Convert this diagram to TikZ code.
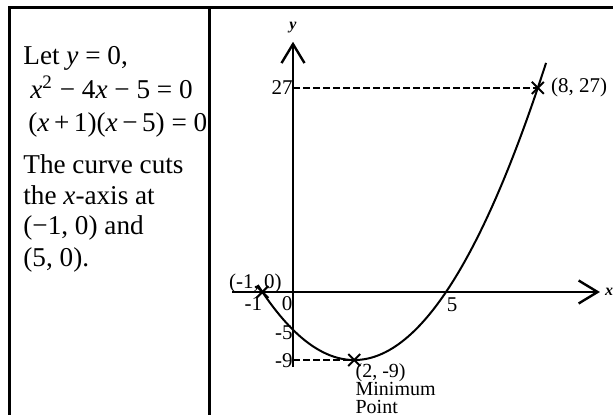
\documentclass[tikz,border=0pt]{standalone}
\usepackage{fontspec}
\setmainfont{Liberation Serif}
\usetikzlibrary{arrows.meta,positioning,shapes.misc}

\begin{document}
\begin{tikzpicture}[
  x=0.5pt, y=-0.5pt,
  frame/.style={draw=black, line width=1.5pt},
  solntext/.style={anchor=base west, inner sep=0pt, font=\fontsize{13.6}{16}\selectfont},
  axis/.style={draw=black, line width=1.2pt, -{Straight Barb[length=9.5pt,width=11.5pt]}},
  curve/.style={draw=black, line width=1pt},
  guide/.style={draw=black, line width=0.8pt, dash pattern=on 3.5pt off 1.5pt},
  ptmark/.style={cross out, draw=black, line width=1pt, minimum size=5pt, inner sep=0pt},
  lbl/.style={font=\fontsize{10.5}{11}\selectfont, inner sep=0pt},
  minlbl/.style={lbl, anchor=base west, font=\fontsize{10}{11}\selectfont},
  axlbl/.style={font=\fontsize{8}{9}\selectfont\bfseries\itshape, inner sep=0pt}
]

\useasboundingbox (0,0) rectangle (613,415);

% Table rules
\draw[frame] (9,416) |- (613,8);
\draw[frame] (209,8) -- (209,416);

% Left cell: working
\node[solntext] (let)   at (23,65)  {Let \textit{y} = 0,};
\node[solntext] (quad)  at (30,99)  {\textit{x}\textsuperscript{2} − 4\textit{x} − 5 = 0};
\node[solntext] (fact)  at (28,132) {(\textit{x}\,+\,1)(\textit{x}\,−\,5) = 0};
\node[solntext] (cuts1) at (23,174) {The curve cuts};
\node[solntext] (cuts2) at (23,205) {the \textit{x}-axis at};
\node[solntext] (cuts3) at (23,235) {(−1, 0) and};
\node[solntext] (cuts4) at (23,267) {(5, 0).};

% Right cell: sketch of the curve
\begin{scope}[shift={(293,292)}, x=15.3pt, y=3.78pt]
  \coordinate (O) at (0,0);
  \coordinate (y27) at (0,27);
  \coordinate (ym5) at (0,-5);
  \coordinate (ym9) at (0,-9);
  \coordinate (x5) at (5,0);

  % Axes
  \draw[axis] (-1.99,0) -- (10.03,0);
  \draw[axis] (0,-9.9) -- (0,33.1);
  \node[axlbl] (xlab) at (10.33,0) {x};
  \node[axlbl] (ylab) at (0,35) {y};

  % Curve
  \draw[curve] plot[domain=-1.15:8.27, samples=80, smooth] (\x,{\x*\x-4*\x-5});

  % Points on the curve
  \node[ptmark] (root) at (-1,0) {};
  \node[ptmark] (vertex) at (2,-9) {};
  \node[ptmark] (pt8) at (8,27) {};

  \draw[guide] (y27) -- (pt8.center);
  \draw[guide] (ym9) -- (vertex.center);

  % Labels
  \node[lbl, anchor=east] (l27) at (y27) {27};
  \node[lbl, right=3.5pt of pt8] (lpt8) {(8, 27)};
  \node[lbl] (lroot) at ([xshift=-3.5pt,yshift=4.5pt]root.center) {(-1, 0)};
  \node[lbl] (lm1) at ([xshift=-4.5pt,yshift=-6pt]root.center) {-1};
  \node[lbl] (l0) at ([xshift=-3pt,yshift=-6pt]O) {0};
  \node[lbl, anchor=east] (lm5) at ([yshift=-1.5pt]ym5) {-5};
  \node[lbl, anchor=east] (lm9) at ([yshift=-0.5pt]ym9) {-9};
  \node[lbl] (l5) at ([xshift=3pt,yshift=-6.5pt]x5) {5};
  \node[minlbl] (lvtx) at ([xshift=0.5pt,yshift=-8.5pt]vertex.center) {(2, -9)};
  \node[minlbl] (lmin) at ([yshift=-9pt]lvtx.base west) {Minimum};
  \node[minlbl] (lpoint) at ([yshift=-9pt]lmin.base west) {Point};
\end{scope}

\end{tikzpicture}
\end{document}
